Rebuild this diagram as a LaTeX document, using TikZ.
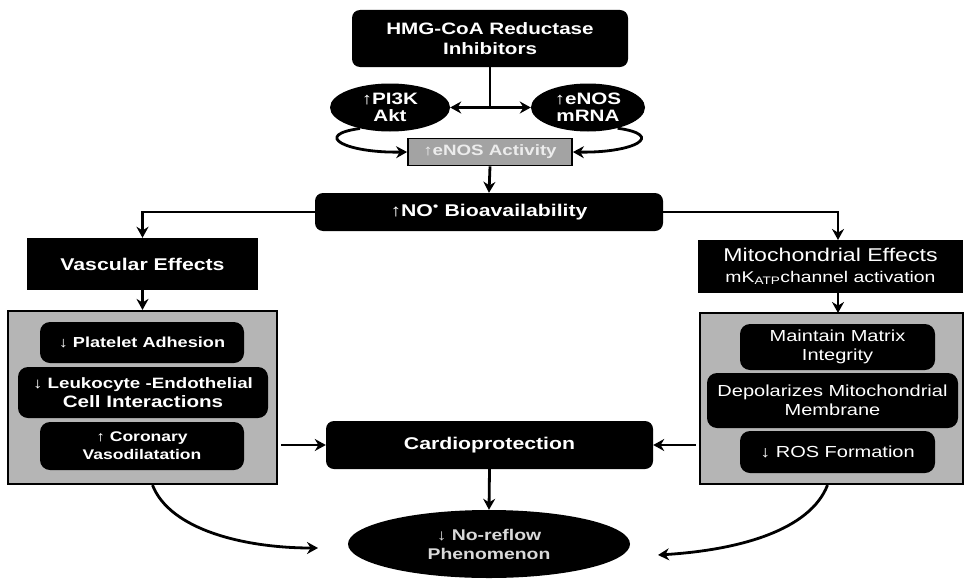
\documentclass[tikz,border=0pt]{standalone}
\usepackage{fontspec}
\setmainfont{Liberation Sans}[FakeStretch=1.25]
\usetikzlibrary{arrows.meta,shapes.geometric,calc}
\begin{document}
\begin{tikzpicture}[x=1pt,y=-1pt,
  blk/.style={fill=black,text=white,align=center,inner sep=0pt},
  rbox/.style={blk,rounded corners=8pt},
  sbox/.style={blk},
  oval/.style={blk,ellipse},
  panel/.style={fill=gray!58,draw=black,line width=2.2pt,inner sep=0pt},
  big/.style={font=\fontsize{17}{20}\selectfont\bfseries},
  mid/.style={font=\fontsize{14.5}{17}\selectfont\bfseries},
  midr/.style={font=\fontsize{16}{19}\selectfont},
  arr/.style={line width=2.8pt,-{Stealth[length=11pt,width=12pt]}},
  ln/.style={line width=2.8pt},
]
\useasboundingbox (0,0) rectangle (965,578);

% top
\node[rbox,font=\fontsize{16.5}{20}\selectfont\bfseries,minimum width=276pt,minimum height=57pt] (hmg) at (490,38.5) {HMG-CoA Reductase\\Inhibitors};
\node[oval,font=\fontsize{16.5}{17}\selectfont\bfseries,minimum width=120pt,minimum height=48pt] (pi) at (390,107.5) {↑PI3K\\Akt};
\node[oval,font=\fontsize{16.5}{17}\selectfont\bfseries,minimum width=114pt,minimum height=48pt] (en) at (588,107.5) {↑eNOS\\mRNA};
\node[fill=gray!72,draw=black,line width=1.8pt,text=gray!15,font=\fontsize{15}{17}\selectfont\bfseries,minimum width=164pt,minimum height=27pt,inner sep=0pt] (act) at (490,152) {↑eNOS Activity};
\node[rbox,font=\fontsize{17}{20}\selectfont\bfseries,minimum width=348pt,minimum height=38pt] (no) at (489,212) {↑NO\textsuperscript{\textbullet} Bioavailability};

\coordinate (stem) at (hmg.south |- pi.east);
\draw[ln] (hmg.south) -- (stem);
\draw[arr] (stem) -- (pi.east);
\draw[arr] (stem) -- (en.west);
\draw[arr] (pi.215) .. controls (312,135) and (345,153) .. (act.west);
\draw[arr] (en.325) .. controls (666,135) and (635,153) .. (act.east);
\draw[arr] (act.south) -- (no.north);

% left column
\node[sbox,big,minimum width=231pt,minimum height=52pt] (vasc) at (142.5,264) {Vascular Effects};
\node[panel,minimum width=269pt,minimum height=173pt] (lp) at (142.5,397.5) {};
\node[rbox,mid,minimum width=204pt,minimum height=41pt,rounded corners=10pt] (l1) at (142,342.5) {↓ Platelet Adhesion};
\node[rbox,font=\fontsize{16.5}{19}\selectfont\bfseries,minimum width=250pt,minimum height=51pt,rounded corners=10pt] (l2) at (143,392.5) {{\fontsize{15}{17}\selectfont\bfseries ↓ Leukocyte -Endothelial}\\{Cell Interactions}};
\node[rbox,font=\fontsize{14}{18}\selectfont\bfseries,minimum width=204pt,minimum height=48pt,rounded corners=10pt] (l3) at (142,446) {↑ Coronary\\Vasodilatation};

\draw[arr] (no.west) -| (vasc.north);
\draw[arr] (vasc.south) -- (lp.north);

% right column
\node[sbox,font=\fontsize{18.5}{21}\selectfont,minimum width=265pt,minimum height=53pt] (mito) at (830.5,266.5) {Mitochondrial Effects\\{\fontsize{15.5}{17}\selectfont mK\textsubscript{ATP}channel activation}};
\node[panel,minimum width=263pt,minimum height=171pt] (rp) at (831.5,398.5) {};
\node[rbox,midr,minimum width=195pt,minimum height=46pt,rounded corners=10pt] (r1) at (837.5,347) {Maintain Matrix\\Integrity};
\node[rbox,midr,minimum width=251pt,minimum height=55pt,rounded corners=10pt] (r2) at (832.5,400.5) {Depolarizes Mitochondrial\\Membrane};
\node[rbox,midr,minimum width=195pt,minimum height=42pt,rounded corners=10pt] (r3) at (837.5,452) {↓ ROS Formation};

\coordinate (mtop) at (838,240);
\coordinate (mbot) at (838,293);
\coordinate (ptop) at (838,313);
\draw[arr] (no.east) -| (mtop);
\draw[arr] (mbot) -- (ptop);

% bottom
\node[rbox,big,minimum width=327pt,minimum height=48pt] (card) at (489.5,445) {Cardioprotection};
\node[oval,text=gray!30,font=\fontsize{15.5}{19}\selectfont\bfseries,minimum width=282pt,minimum height=68pt] (ell) at (489,544) {↓ No-reflow\\Phenomenon};

\draw[arr,shorten <=3pt] (lp.east |- card.west) -- (card.west);
\draw[arr,shorten <=3pt] (rp.west |- card.east) -- (card.east);
\draw[arr] (card.south) -- (ell.north);

\coordinate (lend) at (318,548);
\coordinate (rend) at (658,555);
\draw[arr] ([xshift=10pt]lp.south) .. controls (170,530) and (245,548) .. (lend);
\draw[arr] ([xshift=-4pt]rp.south) .. controls (810,530) and (740,550) .. (rend);
\end{tikzpicture}
\end{document}
